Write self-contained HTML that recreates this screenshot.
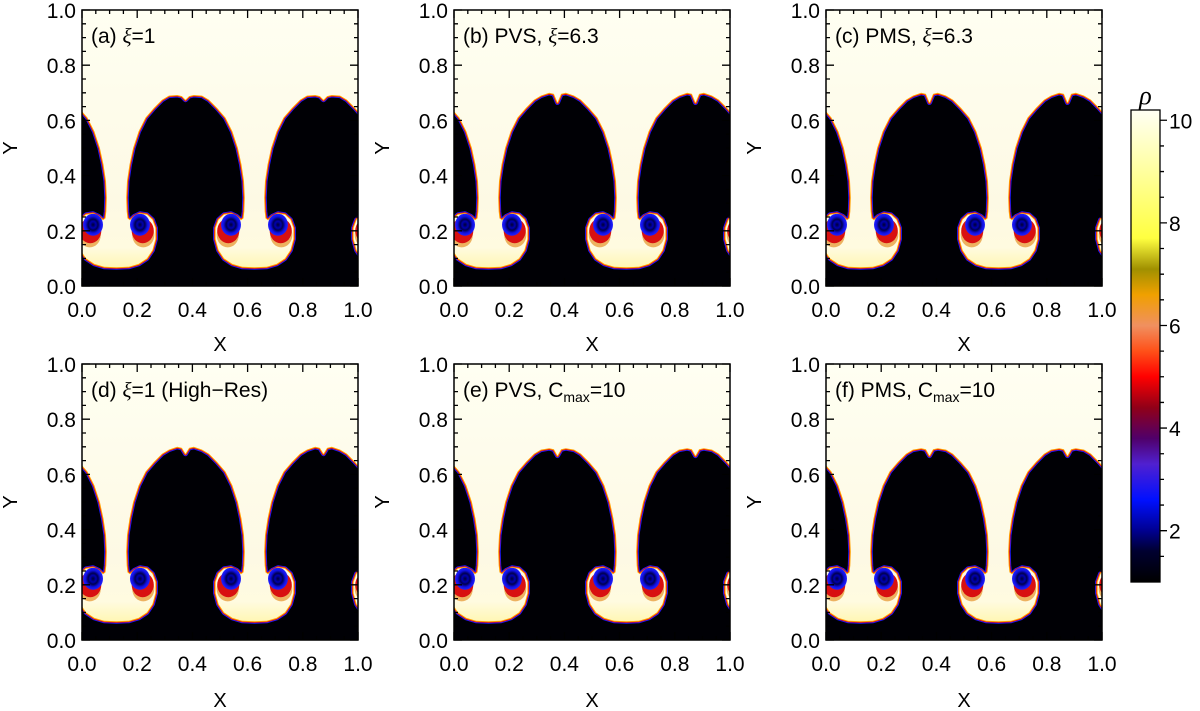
<!DOCTYPE html>
<html><head><meta charset="utf-8"><style>
html,body{margin:0;padding:0;background:#fff;}
svg{display:block;font-family:"Liberation Sans",sans-serif;}
</style></head><body>
<svg id="fig" width="1200" height="711" viewBox="0 0 1200 711" xmlns="http://www.w3.org/2000/svg">
<defs>
<linearGradient id="cbgrad" x1="0" y1="1" x2="0" y2="0"></linearGradient>
<linearGradient id="topgrad" x1="0" y1="0" x2="0" y2="1">
<stop offset="0" stop-color="#fffff2"/><stop offset="0.75" stop-color="#fdf9e4"/><stop offset="0.93" stop-color="#fff8c8"/><stop offset="1" stop-color="#fff080"/></linearGradient>
<radialGradient id="vort" cx="0.5" cy="0.5" r="0.5">
<stop offset="0" stop-color="#000030"/><stop offset="0.3" stop-color="#0000b0"/><stop offset="0.5" stop-color="#000050"/><stop offset="0.75" stop-color="#1010e0"/><stop offset="1" stop-color="#2020ff"/></radialGradient>
</defs>
</svg>
<script>
// ---- data ----
const xTicks = [0.0, 0.2, 0.4, 0.6, 0.8, 1.0];
const yTicks = [0.0, 0.2, 0.4, 0.6, 0.8, 1.0];
const tickLabels = ["0.0","0.2","0.4","0.6","0.8","1.0"];
const cbTicks = [2, 4, 6, 8, 10];
const cbMin = 1.0, cbMax = 10.2;
const panelNames = ["a","b","c","d","e","f"];
const bubbleDip = [0.675, 0.665, 0.665, 0.675, 0.668, 0.668];
const bubbleTop = [0.692, 0.70, 0.70, 0.70, 0.695, 0.695];
const cbStopsV = [1.0, 1.6, 2.0, 2.6, 3.3, 3.8, 4.4, 5.0, 5.5, 6.0, 6.6, 7.1, 7.7, 8.8, 10.2];
const cbStopsC = ["#000000","#000030","#000090","#0010ff","#5020d0","#50006a","#900018","#ff0000","#ff5018","#f09060","#f0a000","#a09000","#ffff40","#ffff90","#fffff4"];

const svg = document.getElementById('fig');
const NS = 'http://www.w3.org/2000/svg';
function mk(tag, attrs, parent){const e=document.createElementNS(NS,tag);for(const k in attrs)e.setAttribute(k,attrs[k]);(parent||svg).appendChild(e);return e;}

const g = document.getElementById('cbgrad');
cbStopsV.forEach((v,i)=>{mk('stop',{offset:((v-cbMin)/(cbMax-cbMin)).toFixed(4),'stop-color':cbStopsC[i]},g);});

const panels = [
 {x:82,y:10,lab:["(a)  ","ξ","=1"]},
 {x:454,y:10,lab:["(b)  PVS,  ","ξ","=6.3"]},
 {x:826,y:10,lab:["(c)  PMS,  ","ξ","=6.3"]},
 {x:82,y:364,lab:["(d)  ","ξ","=1  (High−Res)"]},
 {x:454,y:364,lab:["(e)  PVS,  C","max","=10"]},
 {x:826,y:364,lab:["(f)  PMS,  C","max","=10"]},
];
const W=276,H=276;

panels.forEach((p,pi)=>{
  const sx=v=>p.x+v*W, sy=v=>p.y+H-v*H;
  const grp=mk('g',{});
  
  
  const cid='clip'+pi;
  const cp=mk('clipPath',{id:cid},svg.querySelector('defs'));
  mk('rect',{x:p.x,y:p.y,width:W,height:H},cp);
  const plot=mk('g',{'clip-path':'url(#'+cid+')'},grp);
  const bg=mk('rect',{x:p.x,y:p.y,width:W,height:H,fill:'#000005'},plot);
  
  
  const half=[[0.125,0.068],[0.17,0.07],[0.205,0.08],[0.235,0.1],[0.255,0.13],[0.266,0.17],[0.266,0.21],[0.255,0.24],[0.235,0.258],[0.21,0.262],[0.19,0.252],[0.174,0.238],[0.165,0.245],[0.162,0.27],[0.16,0.32],[0.163,0.38],[0.172,0.44],[0.185,0.5],[0.205,0.56],[0.23,0.61],[0.26,0.645],[0.29,0.675],[0.315,0.69],[0.345,bubbleTop[pi]],[0.362,bubbleTop[pi]-0.004],[0.375,bubbleDip[pi]]];
  const mirror=half.slice(0,-1).reverse().map(q=>[0.75-q[0],q[1]]);
  const period=half.concat(mirror);
  let pts=[];
  for(let k=-1;k<=2;k++){period.forEach(q=>pts.push([q[0]+0.5*k,q[1]]));}
  let d='M'+pts.map(q=>sx(q[0]).toFixed(1)+','+sy(q[1]).toFixed(1)).join(' L');
  const dc=d+' L'+sx(1.7)+','+sy(1.2)+' L'+sx(-0.6)+','+sy(1.2)+' Z';
  const gy=mk('linearGradient',{id:'tg'+pi,gradientUnits:'userSpaceOnUse',x1:0,y1:p.y,x2:0,y2:p.y+H},svg.querySelector('defs'));
  [[0,'#fffff2'],[0.7,'#fdf9e4'],[0.86,'#fffbe0'],[0.94,'#fff6b0'],[1,'#fff080']].forEach(s=>mk('stop',{offset:s[0],'stop-color':s[1]},gy));
  mk('path',{d:d,fill:'none',stroke:'#1a1aff',"stroke-width":5,"stroke-linejoin":'round'},plot);
  mk('path',{d:d,fill:'none',stroke:'#e00010',"stroke-width":3.3,"stroke-linejoin":'round'},plot);
  mk('path',{d:d,fill:'none',stroke:'#ffa000',"stroke-width":2,"stroke-linejoin":'round'},plot);
  const fl=mk('path',{d:dc,fill:'url(#tg'+pi+')'},plot);
  
  
  for(let k=-1;k<=2;k++){
    [0.04,0.21].forEach((cx,j)=>{
      const x0=cx+0.5*k;
      const side=j===0?-1:1;
      mk('ellipse',{cx:sx(x0+side*0.012),cy:sy(0.185),rx:0.04*W,ry:0.045*H,fill:'#e8a040',opacity:0.8},plot);
      mk('ellipse',{cx:sx(x0+side*0.01),cy:sy(0.2),rx:0.04*W,ry:0.045*H,fill:'#d81010'},plot);
      const v=mk('ellipse',{cx:sx(x0),cy:sy(0.222),rx:0.036*W,ry:0.04*H,fill:'url(#vort)'},plot);
      
      
    });
  }
  const fr=mk('rect',{x:p.x,y:p.y,width:W,height:H,fill:'none',stroke:'#000',"stroke-width":1.5},grp);
  
  
  let td='';
  for(let i=0;i<=20;i++){
    const v=i*0.05, L=(i%4===0)?8:4;
    td+=`M${sx(v)},${p.y+H}v${-L}M${sx(v)},${p.y}v${L}`;
    td+=`M${p.x},${sy(v)}h${L}M${p.x+W},${sy(v)}h${-L}`;
  }
  const tk=mk('path',{d:td,stroke:'#000',"stroke-width":1.3,fill:'none'},grp);
  
  
  xTicks.forEach((v,i)=>{
    const t=mk('text',{x:sx(v),y:p.y+H+31,"text-anchor":'middle',"font-size":21},grp);
    t.textContent=tickLabels[i];
    
    
  });
  yTicks.forEach((v,i)=>{
    const t=mk('text',{x:p.x-6,y:sy(v)+8,"text-anchor":'end',"font-size":21},grp);
    t.textContent=tickLabels[i];
    
    
  });
  const xl=mk('text',{x:p.x+W/2,y:p.y+H+(pi<3?65:67),"text-anchor":'middle',"font-size":20},grp);
  xl.textContent='X';
  
  
  const ylx=p.x-72, yly=p.y+H/2;
  const yl=mk('text',{x:ylx,y:yly,"text-anchor":'middle',"font-size":20,transform:`rotate(-90 ${ylx} ${yly})`,dy:7},grp);
  yl.textContent='Y';
  
  
  const lt=mk('text',{x:p.x+9,y:p.y+33,"font-size":21},grp);
  
  
  const a=mk('tspan',{},lt); a.textContent=p.lab[0];
  if(p.lab[1]==='max'){
    const b=mk('tspan',{"font-size":14,dy:5},lt); b.textContent='max';
    const c=mk('tspan',{dy:-5},lt); c.textContent=p.lab[2];
  } else {
    const b=mk('tspan',{"font-style":'italic',"font-family":'"Liberation Serif",serif'},lt); b.textContent=p.lab[1];
    const c=mk('tspan',{},lt); c.textContent=p.lab[2];
  }
});

const cbX=1131,cbW=29,cbTop=110,cbBot=582;
const cy=v=>cbBot-(v-cbMin)/(cbMax-cbMin)*(cbBot-cbTop);
const cb=mk('rect',{x:cbX,y:cbTop,width:cbW,height:cbBot-cbTop,fill:'url(#cbgrad)',stroke:'#000',"stroke-width":1.3});


let cd='';
for(let v=1.5;v<=10.01;v+=0.5){const L=(Math.abs(v-Math.round(v/2)*2)<0.01)?7:4;cd+=`M${cbX+cbW},${cy(v)}h${L}`;}
const cbt=mk('path',{d:cd,stroke:'#000',"stroke-width":1.3});


cbTicks.forEach(v=>{
  const t=mk('text',{x:cbX+cbW+9,y:cy(v)+8,"font-size":21});
  t.textContent=String(v);
  
  
});
const rt=mk('text',{x:cbX+cbW/2,y:cbTop-6,"text-anchor":'middle',"font-size":26,"font-style":'italic',"font-family":'"Liberation Serif",serif'});
rt.textContent='ρ';


</script>
</body></html>
